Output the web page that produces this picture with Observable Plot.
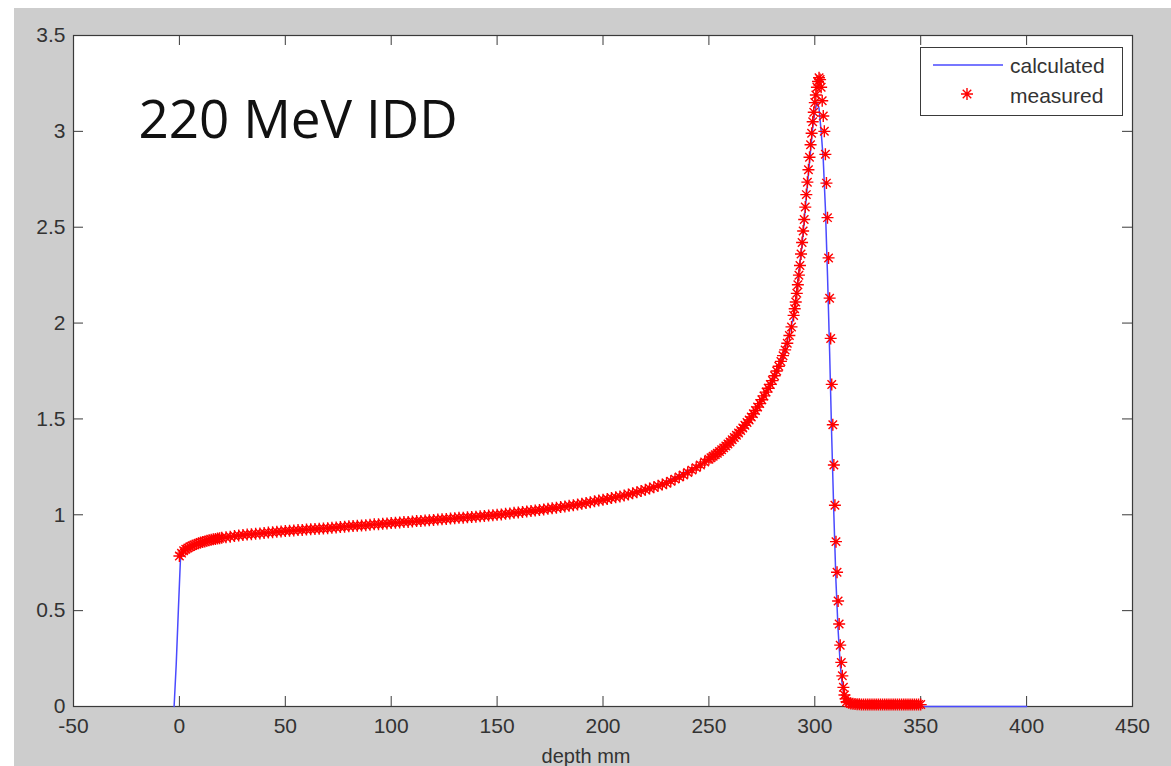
<!DOCTYPE html>
<html>
<head>
<meta charset="utf-8">
<script src="https://cdn.jsdelivr.net/npm/d3@7"></script>
<script src="https://cdn.jsdelivr.net/npm/@observablehq/plot@0.6"></script>
<style>
html,body{margin:0;padding:0;background:#fff;width:1171px;height:766px;overflow:hidden}
#bg{position:absolute;left:14px;top:8px;width:1157px;height:758px;background:#cdcdcd}
#chart{position:absolute;left:0;top:0}
#legend{position:absolute;left:920px;top:47px;width:203px;height:69px;background:#fff;border:1px solid #3a3a3a;box-sizing:border-box}
</style>
</head>
<body>
<div id="bg"></div>
<div id="chart"></div>
<div id="legend"></div>
<script>
// ---- data ----
const xTicks = [-50, 0, 50, 100, 150, 200, 250, 300, 350, 400, 450];
const xTickLabels = ["-50", "0", "50", "100", "150", "200", "250", "300", "350", "400", "450"];
const yTicks = [0, 0.5, 1, 1.5, 2, 2.5, 3, 3.5];
const yTickLabels = ["0", "0.5", "1", "1.5", "2", "2.5", "3", "3.5"];
const titleText = "220 MeV IDD";
const xLabel = "depth mm";
const seriesNames = ["calculated", "measured"];

const measuredDepth = [
  0,1,2,3,4,5,6,7,8,9,10,11,12,13,14,15,16,17,18,19,20,
  22,24,26,28,30,32,34,36,38,40,42,44,46,48,50,52,54,56,58,60,62,64,66,68,70,72,74,76,78,80,82,84,86,88,90,92,94,96,98,100,
  102,104,106,108,110,112,114,116,118,120,122,124,126,128,130,132,134,136,138,140,142,144,146,148,150,
  152,154,156,158,160,162,164,166,168,170,172,174,176,178,180,182,184,186,188,190,192,194,196,198,200,
  202,204,206,208,210,212,214,216,218,220,222,224,226,228,230,232,234,236,238,240,242,244,246,248,250,
  251,252,253,254,255,256,257,258,259,260,261,262,263,264,265,266,267,268,269,270,
  271,272,273,274,275,276,277,278,279,280,281,282,283,284,285,286,287,288,289,
  290,290.5,291,291.5,292,292.5,293,293.5,294,294.5,295,295.5,296,296.5,297,297.5,298,298.5,299,299.5,
  300,300.5,301,301.5,302,302.5,303,303.5,304,304.5,305,305.5,306,306.5,307,307.5,308,308.5,309,309.5,
  310,310.5,311,311.5,312,312.5,313,313.5,314,314.5,315,
  316,317,318,319,320,321,322,323,324,325,326,327,328,329,330,331,332,333,334,335,
  336,337,338,339,340,341,342,343,344,345,346,347,348,349,350
];
const measuredDose = [
  0.785,0.800,0.812,0.820,0.827,0.833,0.838,0.843,0.847,0.851,0.855,0.858,0.861,0.864,0.867,0.870,0.872,0.874,0.876,0.878,0.880,
  0.883,0.886,0.889,0.892,0.895,0.897,0.899,0.901,0.903,0.905,0.907,0.909,0.911,0.913,0.915,0.917,0.918,0.920,0.921,0.923,
  0.924,0.926,0.927,0.929,0.930,0.932,0.934,0.936,0.938,0.940,0.941,0.943,0.944,0.946,0.948,0.950,0.951,0.953,0.955,0.957,
  0.958,0.960,0.962,0.963,0.965,0.967,0.968,0.970,0.971,0.973,0.975,0.977,0.978,0.980,0.982,0.984,0.985,0.987,0.988,0.990,
  0.992,0.994,0.996,0.998,1.000,
  1.002,1.005,1.007,1.010,1.012,1.015,1.017,1.020,1.022,1.025,1.028,1.031,1.034,1.037,1.040,
  1.043,1.047,1.050,1.054,1.058,1.062,1.066,1.070,1.074,1.078,
  1.082,1.087,1.091,1.096,1.100,1.106,1.112,1.118,1.124,1.130,1.137,1.144,1.151,1.158,1.165,
  1.175,1.186,1.197,1.208,1.220,1.233,1.246,1.260,1.275,1.290,
  1.297,1.305,1.313,1.321,1.330,1.339,1.349,1.359,1.369,1.380,1.391,1.403,1.415,1.427,1.440,1.453,1.467,1.481,1.495,1.510,
  1.527,1.544,1.562,1.580,1.600,1.620,1.640,1.660,1.680,1.700,1.725,1.750,1.775,1.800,1.830,1.860,1.895,1.935,1.980,
  2.04,2.075,2.11,2.155,2.20,2.25,2.30,2.36,2.42,2.48,2.54,2.605,2.67,2.735,2.80,2.865,2.93,2.99,3.05,3.10,
  3.15,3.19,3.23,3.26,3.28,3.27,3.23,3.16,3.08,3.00,2.88,2.73,2.55,2.34,2.13,1.92,1.68,1.47,1.26,1.05,
  0.86,0.70,0.55,0.43,0.32,0.23,0.16,0.10,0.06,0.04,0.025,
  0.020,0.016,0.014,0.013,0.012,0.012,0.011,0.011,0.011,0.010,0.010,0.010,0.011,0.010,0.010,0.010,0.010,0.011,0.010,0.010,
  0.010,0.010,0.010,0.011,0.010,0.010,0.010,0.010,0.010,0.011,0.010,0.010,0.010,0.010,0.010
];

const calcDepth = [-2.5,-1.5,-0.5,0.5,2,5,10,20,30,50,75,100,125,150,175,200,225,250,260,270,280,285,290,294,297,299,300,301,302,303,304,305,306,307,308,309,310,311,312,313,314,315,316,320,350,400];
const calcDose  = [0,0.22,0.5,0.77,0.805,0.83,0.853,0.878,0.893,0.913,0.935,0.955,0.975,0.998,1.03,1.075,1.145,1.285,1.375,1.505,1.695,1.825,2.035,2.41,2.78,3.02,3.10,3.15,3.12,3.0,2.85,2.6,2.25,1.85,1.4,1.0,0.65,0.40,0.22,0.11,0.05,0.02,0.005,0,0,0];

// ---- build ----
const measured = measuredDepth.map((d, i) => ({depth: d, dose: measuredDose[i]}));
const calculated = calcDepth.map((d, i) => ({depth: d, dose: calcDose[i]}));

const W = 1171, H = 766, mL = 73, mR = 39, mT = 35, mB = 60;
const innerW = W - mL - mR, innerH = H - mT - mB;
const TICK = 10;
const textColor = "#333";
const axisColor = "#3a3a3a";
const red = "#ff0000";
const blue = "#4a4aff";
const R = 6, SW = 1.4;

const asterisk = {
  draw(ctx, size) {
    const r = Math.sqrt(size / Math.PI);
    const d = r * Math.SQRT1_2;
    ctx.moveTo(-r, 0); ctx.lineTo(r, 0);
    ctx.moveTo(0, -r); ctx.lineTo(0, r);
    ctx.moveTo(-d, -d); ctx.lineTo(d, d);
    ctx.moveTo(-d, d); ctx.lineTo(d, -d);
  }
};

const chart = Plot.plot({
  width: W, height: H,
  marginLeft: mL, marginRight: mR, marginTop: mT, marginBottom: mB,
  style: {background: "transparent", fontFamily: "'Liberation Sans', Arial, sans-serif", color: textColor},
  x: {domain: [-50, 450], axis: null},
  y: {domain: [0, 3.5], axis: null},
  marks: [
    Plot.frame({fill: "white", stroke: null}),
    // inward ticks (MATLAB box style)
    Plot.tickX(xTicks, {x: d => d, insetTop: innerH - TICK, stroke: axisColor}),
    Plot.tickX(xTicks, {x: d => d, insetBottom: innerH - TICK, stroke: axisColor}),
    Plot.tickY(yTicks, {y: d => d, insetRight: innerW - TICK, stroke: axisColor}),
    Plot.tickY(yTicks, {y: d => d, insetLeft: innerW - TICK, stroke: axisColor}),
    Plot.frame({stroke: axisColor, strokeWidth: 1.2}),
    Plot.line(calculated, {x: "depth", y: "dose", stroke: blue, strokeWidth: 1.5}),
    Plot.dot(measured, {x: "depth", y: "dose", r: R, symbol: asterisk, stroke: red, strokeWidth: SW, fill: "none"}),
    Plot.axisX(xTicks, {tickSize: 0, tickPadding: 12, fontSize: 21, fill: textColor, label: null,
      tickFormat: d => xTickLabels[xTicks.indexOf(d)]}),
    Plot.axisY(yTicks, {tickSize: 0, tickPadding: 8, fontSize: 21, fill: textColor, label: null,
      tickFormat: d => yTickLabels[yTicks.indexOf(d)]}),
    Plot.text([xLabel], {text: d => d, frameAnchor: "bottom", dy: 42, dx: -17, lineAnchor: "top",
      fontSize: 20, fill: textColor}),
    Plot.text([titleText], {text: d => d, frameAnchor: "top-left", dx: 65, dy: 65, lineAnchor: "top",
      textAnchor: "start", fontSize: 53, fontFamily: "'Open Sans', sans-serif", fill: "#111"})
  ]
});
document.getElementById("chart").appendChild(chart);

// ---- legend ----
const lg = d3.select("#legend").append("svg").attr("width", 201).attr("height", 67)
  .style("font-family", "'Liberation Sans', Arial, sans-serif").style("font-size", "21px");
lg.append("line").attr("x1", 12).attr("x2", 82).attr("y1", 17).attr("y2", 17)
  .attr("stroke", blue).attr("stroke-width", 1.5);
lg.append("text").attr("x", 89).attr("y", 25).attr("fill", textColor).text(seriesNames[0]);
const dd = R * Math.SQRT1_2;
lg.append("path").attr("transform", "translate(46,46)")
  .attr("d", `M${-R},0L${R},0M0,${-R}L0,${R}M${-dd},${-dd}L${dd},${dd}M${-dd},${dd}L${dd},${-dd}`)
  .attr("stroke", red).attr("stroke-width", SW).attr("fill", "none");
lg.append("text").attr("x", 89).attr("y", 55).attr("fill", textColor).text(seriesNames[1]);
</script>
</body>
</html>
